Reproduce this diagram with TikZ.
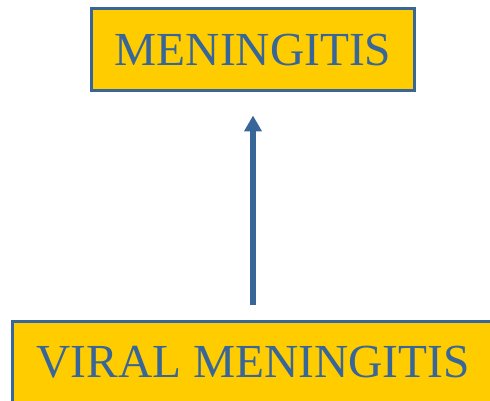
\documentclass[tikz,border=0pt]{standalone}
\usepackage{fontspec}
\setmainfont{Liberation Serif}
\usepackage{xcolor}
\usepackage{tikz}
\definecolor{boxgold}{RGB}{255,204,0}
\definecolor{steelblue}{RGB}{57,102,153}
\usetikzlibrary{arrows.meta,positioning}

\begin{document}
\begin{tikzpicture}[
    x=0.5pt, y=-0.5pt,
    term/.style={rectangle, draw=steelblue, line width=1.5pt, fill=boxgold, text=steelblue, font=\fontsize{23.7}{28}\selectfont, minimum height=41pt, inner sep=0pt},
    link/.style={draw=steelblue, line width=2.9pt, -{Triangle[length=8pt,width=8.5pt]}}
]
\useasboundingbox (0,0) rectangle (490,400);

% Terms
\node[term, minimum width=161.5pt] (mening) at (253,50) {MENINGITIS};
\node[term, minimum width=240.5pt] (viral) at (253,362) {VIRAL MENINGITIS};

% Link
\draw[link, shorten <=7.5pt, shorten >=11.5pt] (viral.north) -- (mening.south);

\end{tikzpicture}
\end{document}
